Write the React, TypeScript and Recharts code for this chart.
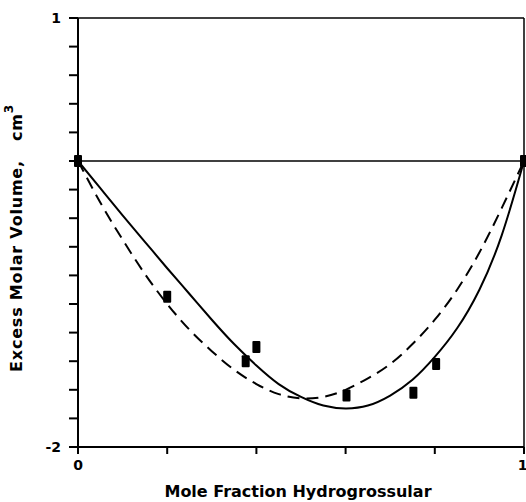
import React from 'react';
import {
  ComposedChart,
  Line,
  Scatter,
  XAxis,
  YAxis,
  ReferenceLine,
  Label,
} from 'recharts';

// mole fraction grid for the two fitted curves
const fractions = [0, 0.05, 0.1, 0.15, 0.2, 0.25, 0.3, 0.35, 0.4, 0.45, 0.5, 0.55, 0.6, 0.65, 0.7, 0.75, 0.8, 0.85, 0.9, 0.95, 1];
const solidFit = [0, -0.19, -0.38, -0.565, -0.75, -0.93, -1.11, -1.28, -1.43, -1.56, -1.65, -1.71, -1.73, -1.71, -1.64, -1.53, -1.37, -1.17, -0.9, -0.52, 0];
const dashedFit = [0, -0.29, -0.55, -0.79, -1.0, -1.18, -1.33, -1.46, -1.56, -1.63, -1.66, -1.65, -1.6, -1.52, -1.42, -1.28, -1.11, -0.9, -0.64, -0.33, 0];

// measured points
const measuredX = [0, 0.2, 0.376, 0.4, 0.602, 0.752, 0.803, 1];
const measuredY = [0, -0.95, -1.4, -1.3, -1.64, -1.62, -1.42, 0];

const xTicks = [0, 0.2, 0.4, 0.6, 0.8, 1];
const yTicks = [-2, -1.8, -1.6, -1.4, -1.2, -1, -0.8, -0.6, -0.4, -0.2, 0, 0.2, 0.4, 0.6, 0.8, 1];

const solidData = fractions.map((x, i) => ({ x, y: solidFit[i] }));
const dashedData = fractions.map((x, i) => ({ x, y: dashedFit[i] }));
const pointData = measuredX.map((x, i) => ({ x, y: measuredY[i] }));

const FONT = '"DejaVu Sans", "Liberation Sans", Arial, sans-serif';

const Block = (props: any) => {
  const { cx, cy } = props;
  if (cx == null || cy == null) return null;
  return <rect x={cx - 4} y={cy - 6} width={8} height={12} rx={1} fill="#000" />;
};

const YTitle = () => (
  <text
    x={16}
    y={238}
    transform="rotate(-90 16 238)"
    textAnchor="middle"
    dominantBaseline="central"
    fontFamily={FONT}
    fontWeight="bold"
    fontSize={16}
    letterSpacing={0.8}
    fill="#000"
  >
    Excess Molar Volume,{'\u00a0\u00a0\u00a0'}cm
    <tspan dy={-7} fontSize={12}>3</tspan>
  </text>
);

const XTitle = () => (
  <text
    x={298}
    y={497}
    textAnchor="middle"
    fontFamily={FONT}
    fontWeight="bold"
    fontSize={16}
    fill="#000"
  >
    Mole Fraction Hydrogrossular
  </text>
);

export default function App() {
  return (
    <div style={{ position: 'absolute', left: 0, top: 0, background: '#fff' }}>
      <ComposedChart
        width={526}
        height={502}
        margin={{ top: 18, right: 2, bottom: 25, left: 18 }}
      >
        <XAxis
          type="number"
          dataKey="x"
          domain={[0, 1]}
          ticks={xTicks}
          tickFormatter={(v: number) => (v === 0 ? '0' : v === 1 ? '1' : '')}
          height={30}
          stroke="#000"
          strokeWidth={2}
          tickSize={7}
          tick={{ fill: '#000', fontSize: 14, fontWeight: 'bold', fontFamily: FONT, dy: 4 }}
        >
          <Label content={<XTitle />} />
        </XAxis>
        <YAxis
          type="number"
          dataKey="y"
          domain={[-2, 1]}
          ticks={yTicks}
          tickFormatter={(v: number) => (v === 1 ? '1' : v === -2 ? '-2' : '')}
          width={60}
          stroke="#000"
          strokeWidth={2}
          tickSize={9}
          tick={{ fill: '#000', fontSize: 14, fontWeight: 'bold', fontFamily: FONT, dx: -6 }}
        >
          <Label content={<YTitle />} />
        </YAxis>
        <ReferenceLine y={0} stroke="#000" strokeWidth={1.5} />
        <ReferenceLine y={1} stroke="#000" strokeWidth={1.5} />
        <ReferenceLine x={1} stroke="#000" strokeWidth={1.5} />
        <Line
          data={dashedData}
          dataKey="y"
          type="natural"
          stroke="#000"
          strokeWidth={2}
          strokeDasharray="12 7"
          dot={false}
          isAnimationActive={false}
        />
        <Line
          data={solidData}
          dataKey="y"
          type="natural"
          stroke="#000"
          strokeWidth={2}
          dot={false}
          isAnimationActive={false}
        />
        <Scatter
          data={pointData}
          dataKey="y"
          shape={<Block />}
          isAnimationActive={false}
        />
      </ComposedChart>
    </div>
  );
}
